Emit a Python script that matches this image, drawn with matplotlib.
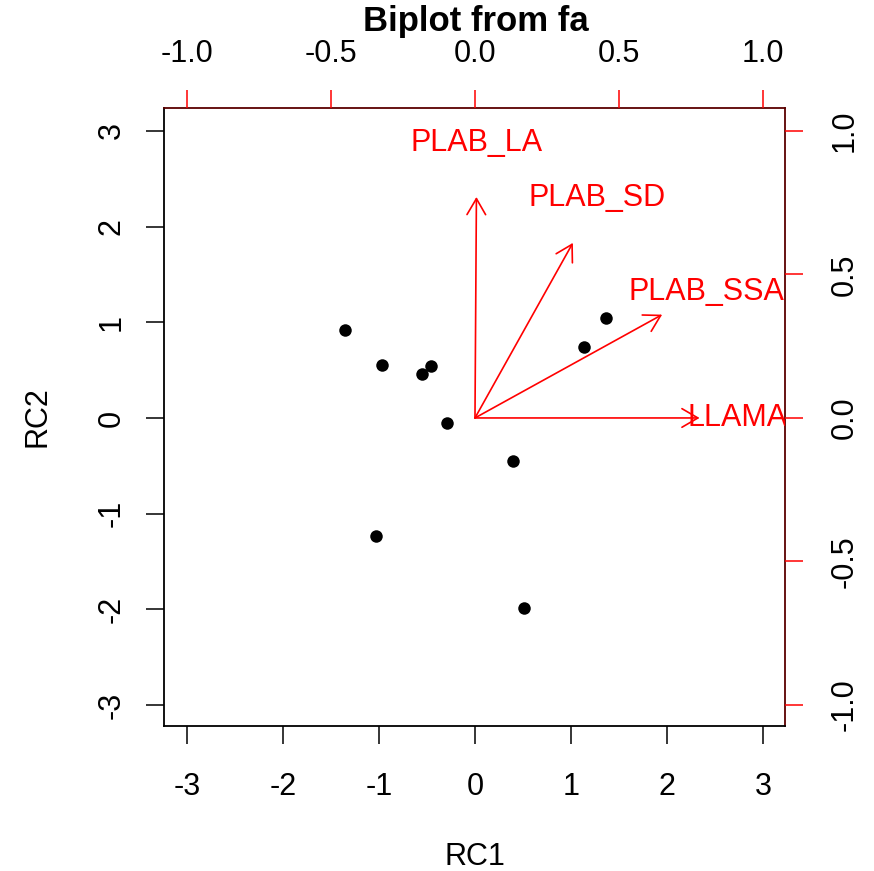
import numpy as np
import matplotlib
matplotlib.use("Agg")
import matplotlib.pyplot as plt

plt.rcParams['font.family'] = ['Liberation Sans', 'DejaVu Sans']

# factor scores (RC1, RC2)
rc1 = [-1.35, -0.97, -0.55, -0.46, -0.29, 0.40, 1.14, 1.36, -1.03, 0.51]
rc2 = [0.92, 0.55, 0.46, 0.54, -0.05, -0.45, 0.74, 1.04, -1.23, -1.99]

# loadings as drawn by the arrows
var_names = ['PLAB_LA', 'PLAB_SD', 'PLAB_SSA', 'LLAMA']
arrow_x = [0.005, 0.34, 0.65, 0.78]
arrow_y = [0.77, 0.61, 0.36, 0.0]
# label centres (loading scale)
label_x = [0.007, 0.425, 0.803, 0.912]
label_y = [0.958, 0.766, 0.44, 0.0]

score_ticks = [-3, -2, -1, 0, 1, 2, 3]
load_ticks = [-1.0, -0.5, 0.0, 0.5, 1.0]

fig = plt.figure(figsize=(8.74, 8.71), dpi=100)
pos = [164 / 874, 1 - 726 / 871, (785 - 164) / 874, (726 - 108) / 871]
ax = fig.add_axes(pos)

ax.plot(rc1, rc2, 'o', color='black', markersize=9, markeredgewidth=0)
ax.set_xlim(-3.24, 3.23)
ax.set_ylim(-3.22, 3.24)
ax.set_xticks(score_ticks)
ax.set_yticks(score_ticks)
ax.set_xticklabels([str(t) for t in score_ticks])
ax.set_yticklabels([str(t) for t in score_ticks], rotation=90, va='center')
ax.tick_params(axis='x', length=13, width=1.1, labelsize=22, pad=20)
ax.tick_params(axis='y', length=13, width=1.1, labelsize=22, pad=14)
for s in ax.spines.values():
    s.set_linewidth(1.3)
ax.spines['top'].set_color('#5a0000')
ax.spines['right'].set_color('#5a0000')
ax.set_xlabel('RC1', fontsize=22)
ax.set_ylabel('RC2', fontsize=22)
ax.xaxis.set_label_coords(0.5, -(857 - 726) / 618, transform=ax.transAxes)
ax.yaxis.set_label_coords(-(164 - 38) / 621, 0.5)
ax.xaxis.label.set_va('center')
ax.yaxis.label.set_va('center')

ax2 = fig.add_axes(pos, frameon=False)
ax2.set_xlim(-3.24 / 3, 3.23 / 3)
ax2.set_ylim(-3.22 / 3, 3.24 / 3)
ax2.xaxis.tick_top()
ax2.yaxis.tick_right()
ax2.set_xticks(load_ticks)
ax2.set_yticks(load_ticks)
ax2.set_xticklabels([f'{t:.1f}' for t in load_ticks])
ax2.set_yticklabels([f'{t:.1f}' for t in load_ticks], rotation=90, va='center')
ax2.tick_params(axis='x', length=13, width=1.1, colors='red', labelcolor='black',
                labelsize=22, pad=15)
ax2.tick_params(axis='y', length=13, width=1.1, colors='red', labelcolor='black',
                labelsize=22, pad=19)

for i, name in enumerate(var_names):
    ax2.annotate('', xy=(arrow_x[i], arrow_y[i]), xytext=(0, 0),
                 arrowprops=dict(arrowstyle='->,head_length=1.15,head_width=0.67',
                                 color='red', lw=1.2, shrinkA=0, shrinkB=0,
                                 mutation_scale=10))
    ax2.text(label_x[i], label_y[i], name, color='red', fontsize=22,
             ha='center', va='center', clip_on=True)

fig.text(0.5 * (363 + 588) / 874, 1 - 22 / 871, 'Biplot from fa', fontsize=25,
         fontweight='bold', ha='center', va='center')

fig.savefig('out.png', dpi=100)
